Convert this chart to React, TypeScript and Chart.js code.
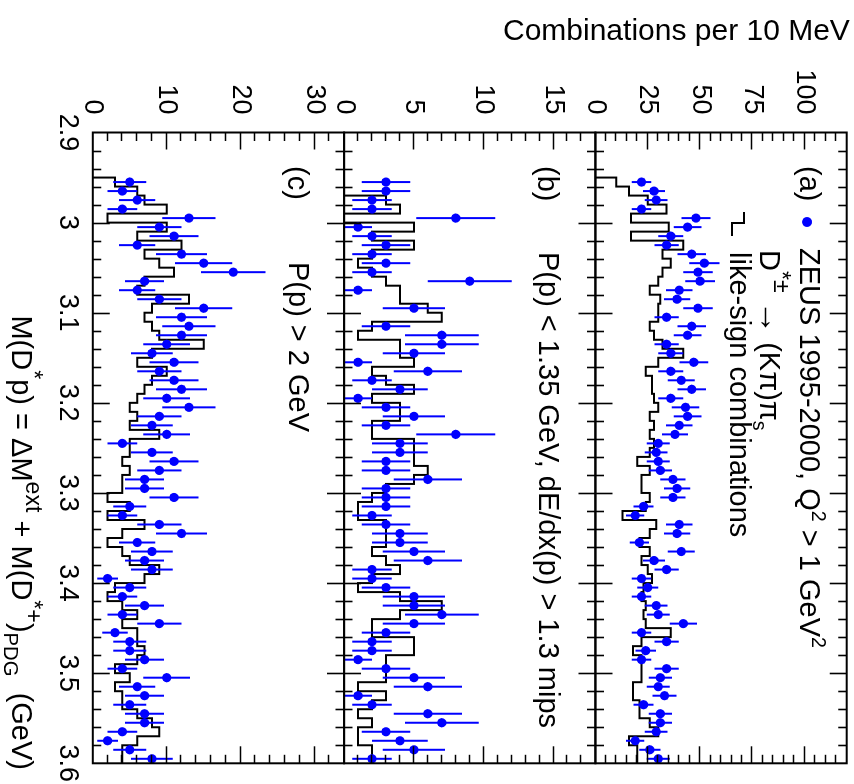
import React, { useEffect, useRef } from 'react';
import { Chart, registerables } from 'chart.js';

Chart.register(...registerables);

// ---------------- data ----------------
// mass bins: 10 MeV wide, starting at 2.95 GeV (65 bins)
const massBinLowMeV = 2950;
const massBinWidthMeV = 10;

const xTickValues = [2.9, 3.0, 3.1, 3.2, 3.3, 3.4, 3.5, 3.6];
const xTickLabels = ['2.9', '3', '3.1', '3.2', '3.3', '3.4', '3.5', '3.6'];

const yTicksA = [0, 25, 50, 75, 100];
const yTicksB = [0, 5, 10, 15];
const yTicksC = [0, 10, 20, 30];

// (a) Q^2 > 1 GeV^2 : ZEUS data (D* p combinations) and like-sign combinations
const zeusA = [
  22, 28, 29, 22, 48, 44, 36, 34, 46, 52, 49, 50, 40, 39, 49, 34, 46, 44, 34, 36, 47, 36, 41, 46, 36, 43, 44, 40, 38, 30,
  29, 30, 31, 37, 39, 37, 23, 19, 40, 39, 21, 41, 28, 34, 22, 25, 22, 29, 30, 42, 22, 34, 24, 22, 34, 31, 30, 33, 23, 31,
  31, 29, 19, 26, 30,
];
const likeSignA = [
  10, 16, 25, 34, 17, 35, 17, 42, 32, 36, 32, 30, 26, 31, 30, 30, 26, 28, 32, 42, 30, 24, 27, 27, 28, 30, 26, 28, 26, 28,
  26, 20, 26, 22, 22, 26, 24, 13, 29, 26, 21, 26, 22, 25, 27, 23, 22, 24, 23, 24, 36, 22, 18, 22, 22, 22, 18, 18, 21, 21,
  26, 30, 16, 20, 20,
];

// (b) P(p) < 1.35 GeV, dE/dx(p) > 1.3 mips
const zeusB = [
  3, 3, 2, 2, 8, 1, 2, 3, 2, 3, 2, 9, 1, 0, 5, 0, 3, 7, 7, 5, 1, 6, 2, 4, 1, 3, 5, 3, 8, 4,
  4, 3, 3, 6, 3, 3, 3, 2, 3, 4, 4, 5, 6, 2, 2, 3, 5, 5, 7, 5, 3, 2, 2, 1, 3, 5, 6, 1, 2, 6,
  7, 3, 4, 5, 2,
];
const likeSignB = [
  0, 0, 3, 4, 0, 5, 2, 5, 2, 1, 2, 3, 4, 4, 6, 7, 2, 1, 4, 4, 5, 2, 3, 5, 2, 4, 4, 2, 2, 5,
  5, 5, 6, 5, 3, 2, 1, 1, 3, 3, 3, 2, 3, 4, 2, 1, 4, 7, 4, 2, 2, 5, 5, 3, 3, 3, 1, 3, 2, 1,
  2, 1, 1, 2, 2,
];

// (c) P(p) > 2 GeV
const zeusC = [
  5, 4, 6, 4, 13, 9, 11, 6, 12, 15, 19, 7, 6, 9, 15, 12, 13, 12, 10, 8, 11, 9, 11, 12, 10, 13, 9, 8, 10, 4,
  8, 11, 9, 7, 7, 11, 5, 4, 9, 12, 6, 8, 7, 8, 2, 5, 4, 7, 4, 9, 3, 5, 5, 7, 4, 10, 6, 7, 5, 7,
  7, 4, 2, 5, 8,
];
const likeSignC = [
  3, 6, 7, 10, 2, 10, 6, 12, 7, 9, 11, 7, 6, 13, 8, 7, 8, 9, 15, 8, 6, 10, 8, 7, 6, 5, 6, 5, 9, 5,
  5, 4, 5, 4, 4, 2, 5, 2, 7, 4, 2, 4, 5, 9, 7, 3, 2, 4, 6, 4, 6, 6, 7, 6, 3, 5, 3, 4, 4, 6,
  8, 9, 6, 4, 4,
];

// ---------------- layout / style ----------------
const FONT = "'Liberation Sans', Arial, Helvetica, sans-serif";
const BLUE = '#0000ff';
const W0 = 784; // unrotated figure width  (becomes page height)
const H0 = 854; // unrotated figure height (becomes page width)
const PLOT_L = 132.5;
const PLOT_R = 763.3;
const PANEL_H = 251.3;

type PanelSpec = {
  zeus: number[];
  like: number[];
  yMax: number;
  yTicks: number[];
  yMinor: number;
  top: number;
  showX: boolean;
};

const panels: PanelSpec[] = [
  { zeus: zeusA, like: likeSignA, yMax: 120, yTicks: yTicksA, yMinor: 5, top: 7.3, showX: false },
  { zeus: zeusB, like: likeSignB, yMax: 18, yTicks: yTicksB, yMinor: 1, top: 7.3 + PANEL_H, showX: false },
  { zeus: zeusC, like: likeSignC, yMax: 34, yTicks: yTicksC, yMinor: 2, top: 7.3 + 2 * PANEL_H, showX: true },
];

const binCenter = (i: number) => (massBinLowMeV + massBinWidthMeV * (i + 0.5)) / 1000;
const binEdge = (i: number) => (massBinLowMeV + massBinWidthMeV * i) / 1000;

const rootFramePlugin = {
  id: 'rootFrame',
  beforeDatasetDraw(chart: any, args: any) {
    if (args.index !== 0) return;
    const ctx = chart.ctx;
    const xs = chart.scales.x;
    const ys = chart.scales.y;
    const data = chart.data.datasets[0].data as { x: number; y: number }[];
    ctx.save();
    ctx.strokeStyle = BLUE;
    ctx.lineWidth = 2;
    ctx.beginPath();
    for (const p of data) {
      if (p.y <= 0) continue;
      const err = Math.sqrt(p.y); // Poisson error
      const px = xs.getPixelForValue(p.x);
      ctx.moveTo(px, ys.getPixelForValue(p.y - err));
      ctx.lineTo(px, ys.getPixelForValue(p.y + err));
    }
    ctx.stroke();
    ctx.restore();
  },
  afterDraw(chart: any, _args: any, opts: any) {
    const ctx = chart.ctx;
    const { left, right, top, bottom } = chart.chartArea;
    const xs = chart.scales.x;
    const ys = chart.scales.y;
    const MAJ = 17;
    const MIN = 8.5;
    ctx.save();
    ctx.strokeStyle = '#000';
    ctx.lineWidth = 1.6;
    ctx.beginPath();
    // x ticks (top and bottom edges, inward)
    for (let i = 1; i < 35; i++) {
      const v = xs.min + i * 0.02;
      const px = Math.round(xs.getPixelForValue(v)) + 0.5;
      const len = i % 5 === 0 ? MAJ : MIN;
      ctx.moveTo(px, bottom);
      ctx.lineTo(px, bottom - len);
      ctx.moveTo(px, top);
      ctx.lineTo(px, top + len);
    }
    // y ticks (left and right edges, inward)
    for (let i = 1; i * opts.yMinor < ys.max; i++) {
      const v = i * opts.yMinor;
      const py = Math.round(ys.getPixelForValue(v)) + 0.5;
      const len = i % 5 === 0 ? MAJ : MIN;
      ctx.moveTo(left, py);
      ctx.lineTo(left + len, py);
      ctx.moveTo(right, py);
      ctx.lineTo(right - len, py);
    }
    ctx.stroke();
    ctx.lineWidth = 2;
    ctx.strokeRect(left, top, right - left, bottom - top);
    ctx.restore();
  },
};

function PanelChart({ spec }: { spec: PanelSpec }) {
  const ref = useRef<HTMLCanvasElement | null>(null);
  useEffect(() => {
    if (!ref.current) return;
    const pts = spec.zeus.map((v, i) => ({ x: binCenter(i), y: v }));
    const hist = [{ x: binEdge(0), y: 0 }, ...spec.like.map((v, i) => ({ x: binEdge(i + 1), y: v }))];
    const bottomSpace = H0 - (spec.top + PANEL_H);
    const zeroPad = (s: any) => {
      s.paddingLeft = 0;
      s.paddingRight = 0;
      s.paddingTop = 0;
      s.paddingBottom = 0;
    };
    const chart = new Chart(ref.current, {
      type: 'scatter',
      data: {
        datasets: [
          {
            label: 'ZEUS 1995-2000',
            data: pts,
            backgroundColor: BLUE,
            borderColor: BLUE,
            borderWidth: 0,
            pointRadius: (c: any) => (c.raw && c.raw.y > 0 ? 4.6 : 0),
            pointHoverRadius: 0,
            showLine: false,
          } as any,
          {
            type: 'line',
            label: 'like-sign combinations',
            data: hist,
            borderColor: '#000',
            borderWidth: 2,
            pointRadius: 0,
            stepped: 'after',
            fill: false,
            showLine: true,
            tension: 0,
          } as any,
        ],
      },
      options: {
        responsive: false,
        animation: false,
        devicePixelRatio: 1,
        events: [],
        layout: {
          padding: { top: spec.top, bottom: spec.showX ? 0 : bottomSpace, left: 0, right: W0 - PLOT_R },
        },
        plugins: {
          legend: { display: false },
          tooltip: { enabled: false },
          rootFrame: { yMinor: spec.yMinor },
        } as any,
        scales: {
          x: {
            type: 'linear',
            position: 'bottom',
            min: 2.9,
            max: 3.6,
            display: spec.showX,
            grid: { display: false, drawTicks: false },
            border: { display: false },
            afterBuildTicks: (s: any) => {
              s.ticks = xTickValues.map((v) => ({ value: v }));
            },
            ticks: {
              autoSkip: false,
              maxRotation: 0,
              minRotation: 0,
              padding: 9,
              color: '#000',
              font: { size: 27, family: FONT },
              callback: (_v: any, i: number) => xTickLabels[i],
            },
            afterFit: (s: any) => {
              if (spec.showX) s.height = bottomSpace;
              zeroPad(s);
            },
          },
          y: {
            type: 'linear',
            position: 'left',
            min: 0,
            max: spec.yMax,
            grid: { display: false, drawTicks: false },
            border: { display: false },
            afterBuildTicks: (s: any) => {
              s.ticks = spec.yTicks.map((v) => ({ value: v }));
            },
            ticks: {
              padding: 18,
              color: '#000',
              font: { size: 27, family: FONT },
              callback: (v: any) => String(v),
            },
            afterFit: (s: any) => {
              s.width = PLOT_L;
              zeroPad(s);
            },
          },
        },
      } as any,
      plugins: [rootFramePlugin],
    });
    return () => chart.destroy();
  }, [spec]);
  return (
    <canvas
      ref={ref}
      width={W0}
      height={H0}
      style={{ position: 'absolute', left: 0, top: 0, width: W0, height: H0 }}
    />
  );
}

const sup = (t: string, k = 0.68) => (
  <span style={{ position: 'relative', top: '-0.62em', fontSize: `${k}em` }}>{t}</span>
);
const sub = (t: string, k = 0.68) => (
  <span style={{ position: 'relative', top: '0.35em', fontSize: `${k}em` }}>{t}</span>
);

function TextAt({ x, base, size, right, children }: any) {
  const style: any = {
    position: 'absolute',
    top: base - 0.8465 * size,
    fontSize: size,
    lineHeight: 1,
    fontFamily: FONT,
    whiteSpace: 'nowrap',
    color: '#000',
  };
  if (right !== undefined) {
    style.right = W0 - right;
    style.textAlign = 'right';
  } else style.left = x;
  return <div style={style}>{children}</div>;
}

function Seg({ x, y, w, h }: any) {
  return <div style={{ position: 'absolute', left: x, top: y, width: w, height: h, background: '#000' }} />;
}

export default function App() {
  return (
    <div
      style={{
        position: 'absolute',
        left: 0,
        top: 0,
        width: 854,
        height: 784,
        background: '#fff',
        overflow: 'hidden',
        fontFamily: FONT,
      }}
    >
      <div
        style={{
          position: 'absolute',
          left: 0,
          top: 0,
          width: W0,
          height: H0,
          transformOrigin: '0 0',
          transform: `translate(${H0}px, 0px) rotate(90deg)`,
        }}
      >
        {panels.map((p, i) => (
          <PanelChart key={i} spec={p} />
        ))}
        {/* panel (a) annotations and legend */}
        <TextAt x={166} base={55} size={29}>(a)</TextAt>
        <div
          style={{
            position: 'absolute',
            left: 217.3,
            top: 41.7,
            width: 10,
            height: 10,
            borderRadius: '50%',
            background: BLUE,
          }}
        />
        <TextAt x={248} base={54.7} size={29}>
          ZEUS 1995-2000, Q{sup('2')} &gt; 1 GeV{sup('2')}
        </TextAt>
        <TextAt x={250} base={90.7} size={29}>
          D{sup('*±', 0.8)} <span style={{ fontSize: '1.15em' }}>→</span> (Kπ)π{sub('s')}
        </TextAt>
        <Seg x={211.7} y={108.7} w={12.6} h={2} />
        <Seg x={222.3} y={108.7} w={2} h={14.6} />
        <Seg x={222.3} y={121.3} w={13.7} h={2} />
        <TextAt x={252} base={125} size={29}>like-sign combinations</TextAt>
        {/* panel (b) */}
        <TextAt x={166} base={317} size={29}>(b)</TextAt>
        <TextAt x={252} base={316} size={29}>P(p) &lt; 1.35 GeV, dE/dx(p) &gt; 1.3 mips</TextAt>
        {/* panel (c) */}
        <TextAt x={166} base={567} size={29}>(c)</TextAt>
        <TextAt x={262} base={566} size={29}>P(p) &gt; 2 GeV</TextAt>
        {/* x-axis title */}
        <TextAt right={770} base={843} size={29}>
          M(D{sup('*', 0.8)}p) = ΔM{sup('ext', 0.8)} + M(D{sup('*+', 0.8)}){sub('PDG', 0.7)} &nbsp;(GeV)
        </TextAt>
      </div>
      {/* y-axis title (horizontal on the page) */}
      <div
        style={{
          position: 'absolute',
          left: 503,
          top: 40 - 0.8465 * 30,
          fontSize: 30,
          lineHeight: 1,
          fontFamily: FONT,
          whiteSpace: 'nowrap',
          color: '#000',
        }}
      >
        Combinations per 10 MeV
      </div>
    </div>
  );
}
